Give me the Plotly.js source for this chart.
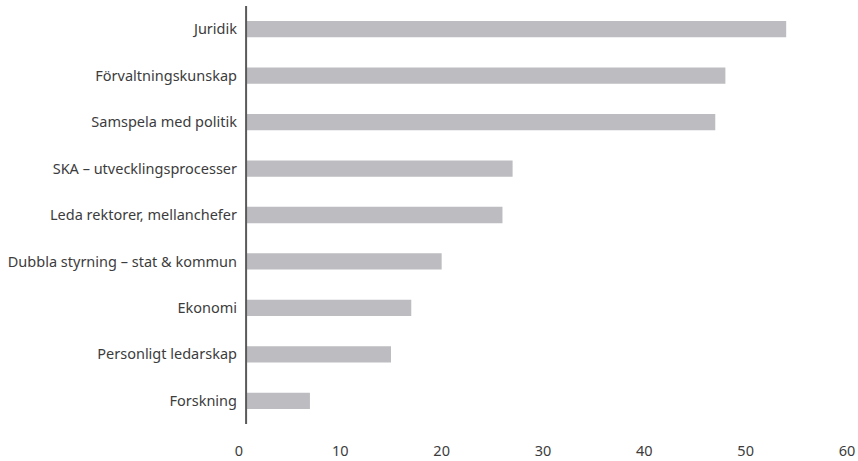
<!DOCTYPE html>
<html>
<head>
<meta charset="utf-8">
<script src="https://cdn.plot.ly/plotly-3.0.1.min.js"></script>
<style>html,body{margin:0;padding:0;background:#fff;}#chart{width:858px;height:461px;}</style>
</head>
<body>
<div id="chart"></div>
<script>
const categories = ["Juridik", "Förvaltningskunskap", "Samspela med politik", "SKA – utvecklingsprocesser", "Leda rektorer, mellanchefer", "Dubbla styrning – stat & kommun", "Ekonomi", "Personligt ledarskap", "Forskning"];
const values = [54, 48, 47, 27, 26, 20, 17, 15, 7];
const xTicks = [0, 10, 20, 30, 40, 50, 60];

const trace = {
  type: 'bar',
  orientation: 'h',
  y: categories,
  x: values,
  marker: {color: '#bdbdc1'},
  hoverinfo: 'x+y'
};

const layout = {
  width: 858,
  height: 461,
  margin: {l: 239, r: 11, t: 6, b: 37},
  paper_bgcolor: '#ffffff',
  plot_bgcolor: '#ffffff',
  font: {family: 'Noto Sans, Open Sans, sans-serif', size: 14.5, color: '#3c3c3c'},
  bargap: 0.65,
  showlegend: false,
  xaxis: {
    range: [0, 60],
    tickvals: xTicks,
    ticktext: xTicks.map(String),
    showgrid: false,
    zeroline: false,
    showline: false,
    ticks: '',
    ticklabelstandoff: 16,
    tickfont: {size: 14.5, color: '#3c3c3c'}
  },
  yaxis: {
    type: 'category',
    categoryorder: 'array',
    categoryarray: categories,
    autorange: 'reversed',
    showgrid: false,
    zeroline: false,
    showline: false,
    ticks: '',
    ticklabelstandoff: 1,
    tickfont: {size: 14.5, color: '#3c3c3c'}
  },
  shapes: [
    {type: 'rect', xref: 'x', yref: 'paper', x0: 0, x1: 0.75, y0: 0, y1: 1, fillcolor: '#ffffff', line: {width: 0}, layer: 'above'},
    {type: 'line', xref: 'x', yref: 'paper', x0: 0.7, x1: 0.7, y0: 0, y1: 1, line: {color: '#5a5a5a', width: 2}, layer: 'above'}
  ]
};

Plotly.newPlot('chart', [trace], layout, {displayModeBar: false, staticPlot: true});
</script>
</body>
</html>
